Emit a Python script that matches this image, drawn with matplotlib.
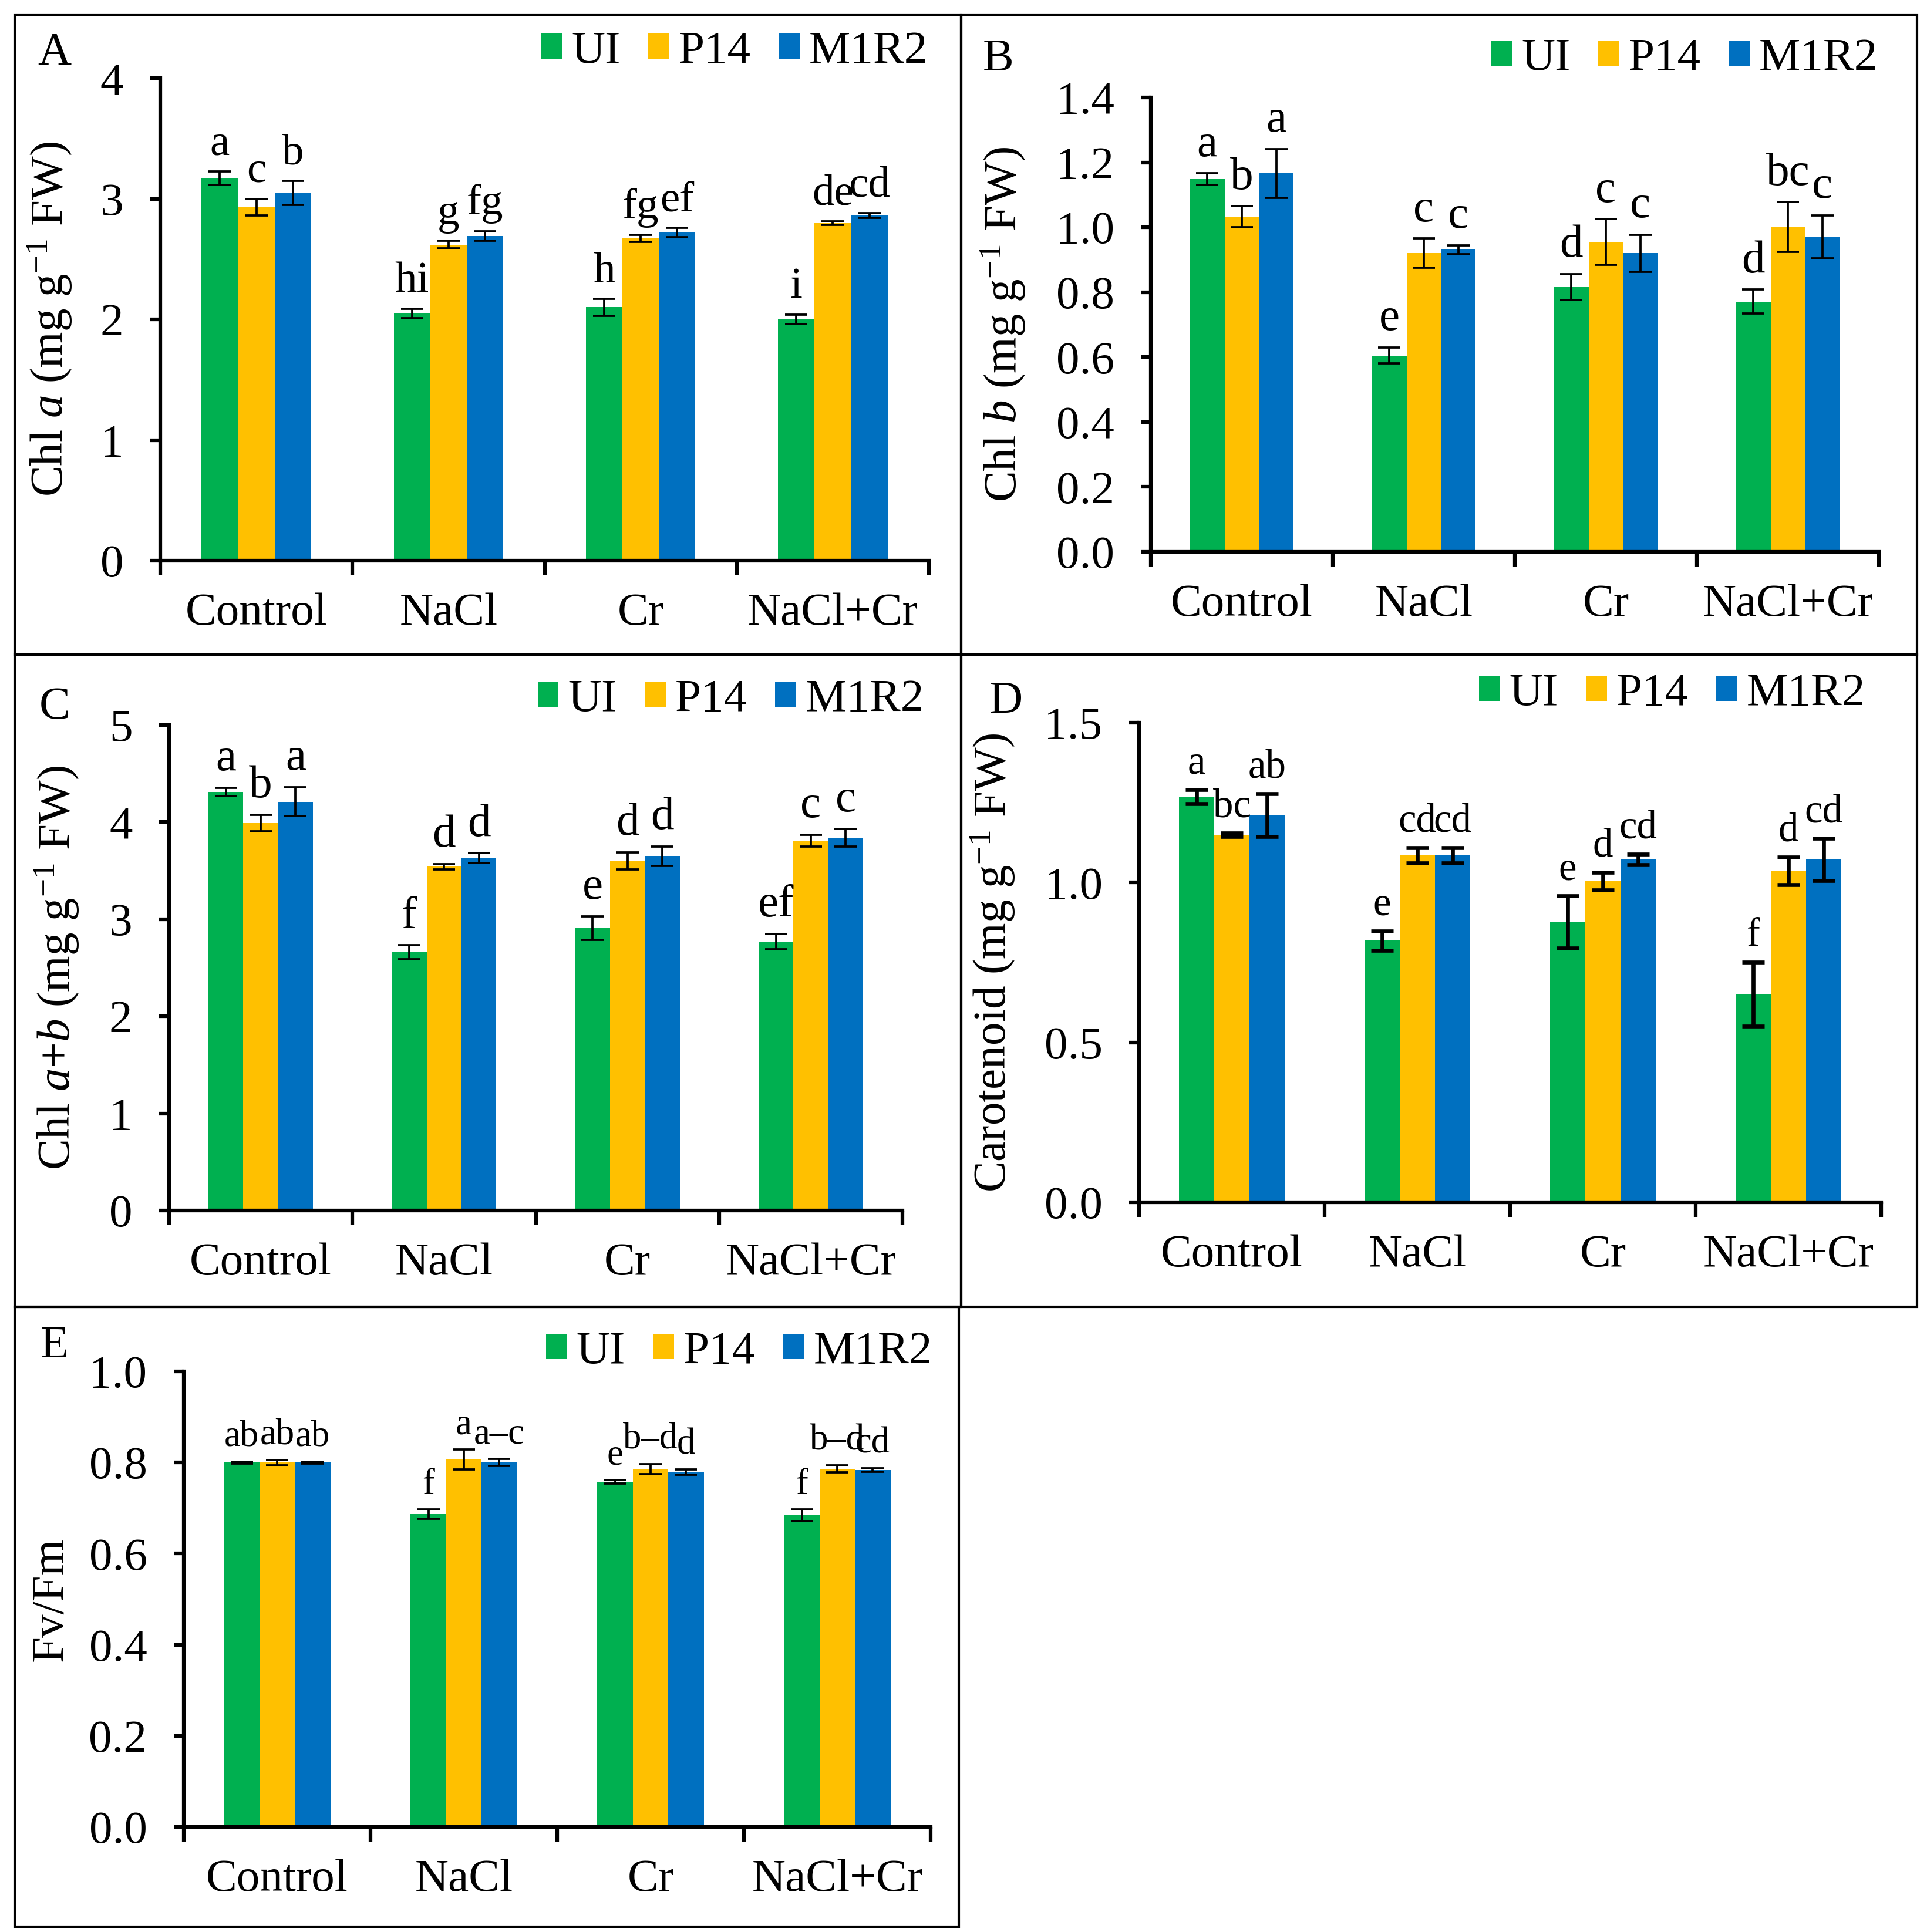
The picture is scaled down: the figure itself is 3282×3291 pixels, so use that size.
import numpy as np
import matplotlib
matplotlib.use("Agg")
import matplotlib.pyplot as plt
from matplotlib.patches import Rectangle

plt.rcParams['font.family'] = 'Liberation Serif'
plt.rcParams['mathtext.fontset'] = 'custom'
plt.rcParams['mathtext.rm'] = 'Liberation Serif'
plt.rcParams['mathtext.it'] = 'Liberation Serif:italic'

groups = ["Control", "NaCl", "Cr", "NaCl+Cr"]
series = ["UI", "P14", "M1R2"]
colors = ["#00B050", "#FFC000", "#0070C0"]

# A - Chl a
chla_mean = [[3.17, 2.05, 2.10, 2.00], [2.93, 2.62, 2.67, 2.80], [3.05, 2.69, 2.72, 2.86]]
chla_err = [[0.056, 0.04, 0.07, 0.04], [0.07, 0.03, 0.03, 0.015], [0.10, 0.04, 0.04, 0.02]]
chla_let = [["a", "hi", "h", "i"], ["c", "g", "fg", "de"], ["b", "fg", "ef", "cd"]]

# B - Chl b
chlb_mean = [[1.148, 0.605, 0.816, 0.771], [1.033, 0.920, 0.955, 1.001], [1.166, 0.931, 0.920, 0.971]]
chlb_err = [[0.018, 0.025, 0.04, 0.037], [0.032, 0.045, 0.07, 0.077], [0.075, 0.014, 0.057, 0.066]]
chlb_let = [["a", "e", "d", "d"], ["b", "c", "c", "bc"], ["a", "c", "c", "c"]]

# C - Chl a+b
chlab_mean = [[4.31, 2.66, 2.91, 2.77], [3.99, 3.54, 3.60, 3.81], [4.21, 3.63, 3.65, 3.84]]
chlab_err = [[0.044, 0.07, 0.12, 0.08], [0.087, 0.03, 0.09, 0.06], [0.15, 0.05, 0.10, 0.09]]
chlab_let = [["a", "f", "e", "ef"], ["b", "d", "d", "c"], ["a", "d", "d", "c"]]

# D - Carotenoid
car_mean = [[1.269, 0.818, 0.877, 0.651], [1.149, 1.085, 1.004, 1.037], [1.211, 1.085, 1.072, 1.072]]
car_err = [[0.022, 0.03, 0.082, 0.10], [0.005, 0.024, 0.027, 0.043], [0.067, 0.024, 0.016, 0.066]]
car_let = [["a", "e", "e", "f"], ["bc", "cd", "d", "d"], ["ab", "cd", "cd", "cd"]]

# E - Fv/Fm
fvfm_mean = [[0.800, 0.687, 0.758, 0.684], [0.800, 0.807, 0.786, 0.786], [0.800, 0.800, 0.779, 0.783]]
fvfm_err = [[0.002, 0.01, 0.004, 0.013], [0.006, 0.022, 0.011, 0.008], [0.002, 0.008, 0.006, 0.004]]
fvfm_let = [["ab", "f", "e", "f"], ["ab", "a", "b–d", "b–d"], ["ab", "a–c", "d", "cd"]]

W, H = 3282, 3291
fig = plt.figure(figsize=(W / 300, H / 300), dpi=300)
FS = 19


def px(x0, y0, x1, y1):
    return [x0 / W, 1 - y1 / H, (x1 - x0) / W, (y1 - y0) / H]


def panel(axbox, mean, err, let, ymax, step, fmt, ylabel, ylab_x, letter, letter_xy,
          leg_right, leg_y, elw=0.9, lfs=FS):
    ax = fig.add_axes(px(*axbox))
    x = np.arange(len(groups))
    w = 0.19
    for i, s in enumerate(series):
        xs = x + (i - 1) * w
        ax.bar(xs, mean[i], w, color=colors[i], label=s, zorder=2)
        ax.errorbar(xs, mean[i], yerr=err[i], fmt="none", ecolor="black",
                    elinewidth=elw, capsize=4.5, capthick=elw, zorder=3)
        for xx, m, e, t in zip(xs, mean[i], err[i], let[i]):
            ax.annotate(t, (xx, m + e), xytext=(0, 3), textcoords="offset points",
                        ha="center", va="bottom", fontsize=lfs)
    ax.set_xlim(-0.5, len(groups) - 0.5)
    ax.set_ylim(0, ymax)
    ticks = np.arange(0, ymax + step / 2, step)
    ax.set_yticks(ticks)
    ax.set_yticklabels([fmt.format(t) for t in ticks], fontsize=FS)
    ax.set_xticks(np.arange(len(groups) + 1) - 0.5)
    ax.set_xticklabels([])
    ax.set_xticks(x, minor=True)
    ax.set_xticklabels(groups, minor=True, fontsize=FS)
    ax.tick_params(axis="x", which="major", direction="out", length=6, width=1.5)
    ax.tick_params(axis="x", which="minor", length=0, pad=13)
    ax.tick_params(axis="y", direction="out", length=4, width=1.5, pad=11)
    for sp in ["top", "right"]:
        ax.spines[sp].set_visible(False)
    for sp in ["left", "bottom"]:
        ax.spines[sp].set_linewidth(1.5)
    ax.set_ylabel(ylabel, fontsize=FS)
    # label anchor is its right edge, shift by about half a line
    ax.yaxis.set_label_coords((ylab_x + 38 - axbox[0]) / (axbox[2] - axbox[0]), 0.5)
    fig.text(letter_xy[0] / W, 1 - letter_xy[1] / H, letter, fontsize=FS,
             ha="center", va="center")
    ax.legend(loc="center right", bbox_to_anchor=(leg_right / W, 1 - leg_y / H),
              bbox_transform=fig.transFigure, ncol=3, frameon=False, fontsize=FS,
              handlelength=0.45, handleheight=0.45, handletextpad=0.2,
              columnspacing=0.6, borderpad=0, borderaxespad=0)
    return ax


panel((273, 133, 1582, 955), chla_mean, chla_err, chla_let, 4, 1, "{:.0f}",
      r"Chl $\it{a}$ (mg g$^{-1}$ FW)", 88, "A", (93, 90), 1580, 88, lfs=18)
panel((1960, 166, 3200, 940), chlb_mean, chlb_err, chlb_let, 1.4, 0.2, "{:.1f}",
      r"Chl $\it{b}$ (mg g$^{-1}$ FW)", 1712, "B", (1700, 101), 3198, 100)
panel((288, 1235, 1537, 2062), chlab_mean, chlab_err, chlab_let, 5, 1, "{:.0f}",
      r"Chl $\it{a}$+$\it{b}$ (mg g$^{-1}$ FW)", 100, "C", (93, 1205), 1574, 1192)
panel((1940, 1231, 3204, 2048), car_mean, car_err, car_let, 1.5, 0.5, "{:.1f}",
      r"Carotenoid (mg g$^{-1}$ FW)", 1694, "D", (1713, 1195), 3177, 1182,
      elw=1.6, lfs=16.5)
panel((313, 2336, 1585, 3112), fvfm_mean, fvfm_err, fvfm_let, 1.0, 0.2, "{:.1f}",
      "Fv/Fm", 84, "E", (93, 2293), 1588, 2303, lfs=15)

# panel frames
frames = [(25, 25, 1637, 1115), (1637, 25, 3265, 1115), (25, 1115, 1637, 2226),
          (1637, 1115, 3265, 2226), (25, 2226, 1633, 3282)]
for x0, y0, x1, y1 in frames:
    b = px(x0, y0, x1, y1)
    fig.add_artist(Rectangle((b[0], b[1]), b[2], b[3], transform=fig.transFigure,
                             fill=False, edgecolor="black", linewidth=1.0))

fig.savefig("out.png", dpi=300)
